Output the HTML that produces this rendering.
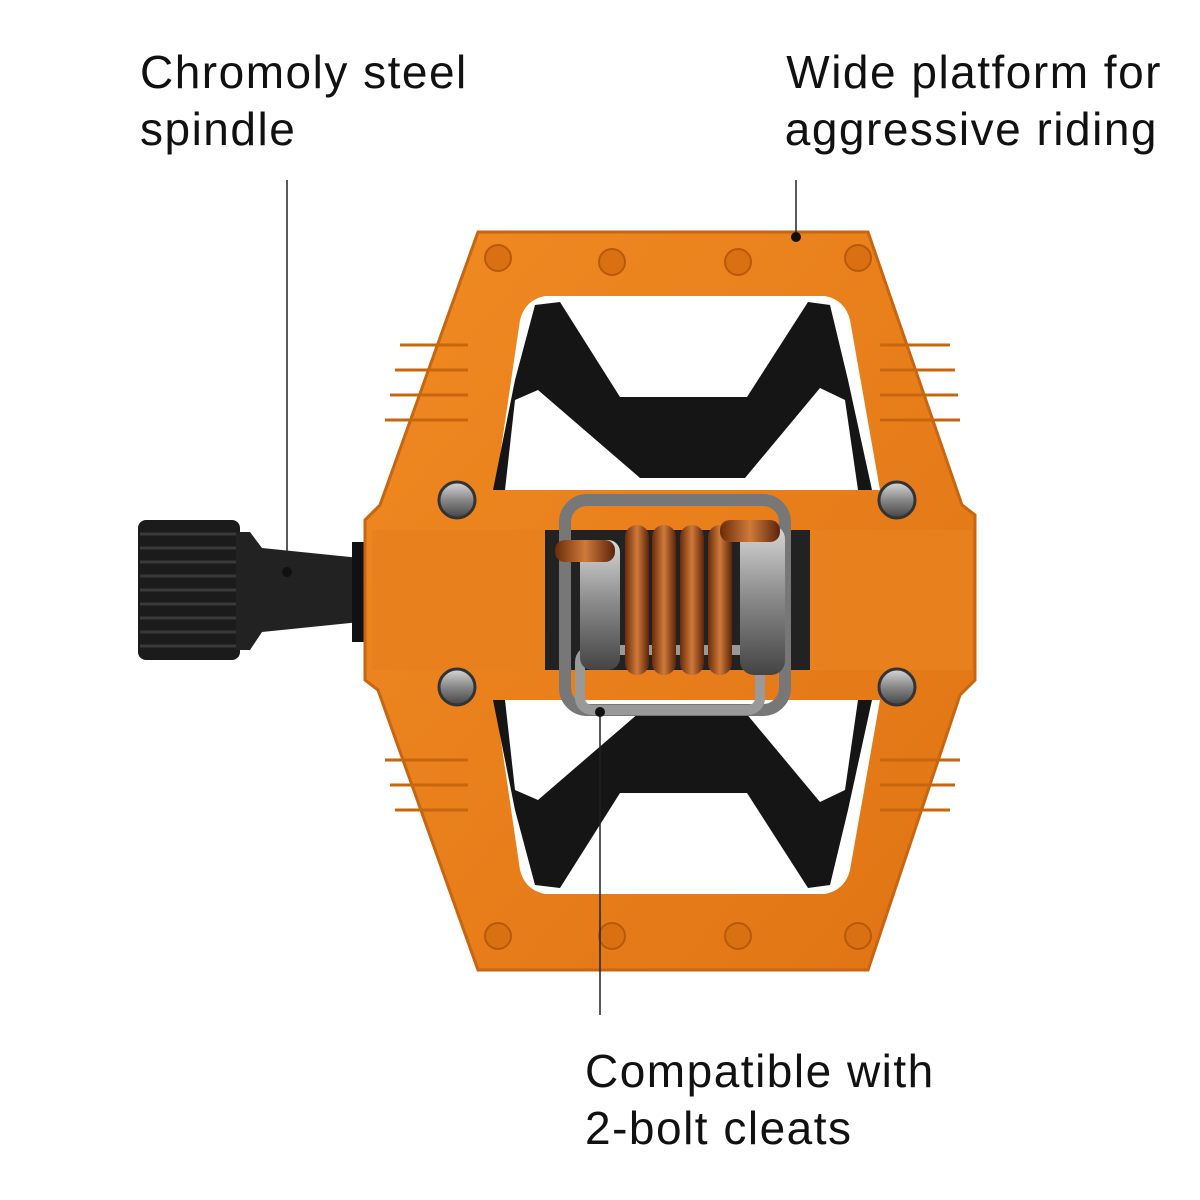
<!DOCTYPE html>
<html><head><meta charset="utf-8"><style>
html,body{margin:0;padding:0;background:#fff;}
svg{display:block}
text{font-family:"Liberation Sans",sans-serif;font-size:46px;letter-spacing:1.5px;fill:#111;}
</style></head><body>
<svg width="1200" height="1200" viewBox="0 0 1200 1200" xmlns="http://www.w3.org/2000/svg">
<defs>
<linearGradient id="orng" x1="0" y1="0" x2="1" y2="1">
<stop offset="0" stop-color="#f08a22"/><stop offset="1" stop-color="#e07414"/></linearGradient>
<linearGradient id="cu" x1="0" y1="0" x2="1" y2="0">
<stop offset="0" stop-color="#6a2c0a"/><stop offset="0.5" stop-color="#d07a3a"/><stop offset="1" stop-color="#5a240a"/></linearGradient>
<linearGradient id="sil" x1="0" y1="0" x2="0" y2="1">
<stop offset="0" stop-color="#d8d8d8"/><stop offset="0.5" stop-color="#888"/><stop offset="1" stop-color="#444"/></linearGradient>
</defs>

<text x="140" y="88">Chromoly steel</text>
<text x="140" y="145">spindle</text>
<text x="1162" y="88" text-anchor="end">Wide platform for</text>
<text x="1158" y="145" text-anchor="end">aggressive riding</text>
<text x="585" y="1087">Compatible with</text>
<text x="585" y="1144">2-bolt cleats</text>

<!-- spindle -->
<rect x="138" y="520" width="102" height="140" rx="8" fill="#1b1b1b"/>
<g stroke="#3a3a3a" stroke-width="3">
<line x1="140" y1="534" x2="240" y2="534"/><line x1="140" y1="548" x2="240" y2="548"/>
<line x1="140" y1="562" x2="240" y2="562"/><line x1="140" y1="576" x2="240" y2="576"/>
<line x1="140" y1="590" x2="240" y2="590"/><line x1="140" y1="604" x2="240" y2="604"/>
<line x1="140" y1="618" x2="240" y2="618"/><line x1="140" y1="632" x2="240" y2="632"/>
<line x1="140" y1="646" x2="240" y2="646"/>
</g>
<path d="M236 532 L250 532 L262 548 L360 558 L360 622 L262 632 L250 650 L236 650 Z" fill="#222"/>
<rect x="352" y="542" width="20" height="100" fill="#111"/>

<!-- platform -->
<path d="M478 232 L868 232 L962 505 L975 515 L975 680 L960 695 L868 970 L478 970 L378 690 L365 680 L365 520 L380 505 Z" fill="url(#orng)" stroke="#c86510" stroke-width="3"/>

<!-- upper window -->
<g id="win">
<path d="M545 296 L825 296 Q845 300 850 320 L880 490 L495 490 L520 320 Q525 300 545 296 Z" fill="#fff"/>
<path d="M535 305 L560 302 L620 397 L747 397 L808 302 L830 305 L848 380 L872 490 L858 490 L845 400 L820 388 L745 478 L640 478 L538 390 L515 400 L505 490 L493 490 L515 380 Z" fill="#151515"/>
</g>
<use href="#win" transform="matrix(1,0,0,-1,0,1190)"/>

<!-- studs -->
<g fill="#d97012" stroke="#b85a0a" stroke-width="2">
<circle cx="498" cy="258" r="13"/><circle cx="612" cy="262" r="13"/><circle cx="738" cy="262" r="13"/><circle cx="858" cy="258" r="13"/>
<circle cx="498" cy="936" r="13"/><circle cx="612" cy="936" r="13"/><circle cx="738" cy="936" r="13"/><circle cx="858" cy="936" r="13"/>
</g>
<!-- side ridges -->
<g stroke="#c8660e" stroke-width="3" fill="none">
<path d="M400 345 L468 345 M395 370 L468 370 M390 395 L468 395 M385 420 L468 420"/>
<path d="M880 345 L950 345 M880 370 L955 370 M880 395 L958 395 M880 420 L960 420"/>
<path d="M385 760 L468 760 M390 785 L468 785 M395 810 L468 810"/>
<path d="M880 760 L960 760 M880 785 L955 785 M880 810 L950 810"/>
</g>
<!-- cross-hatch pads -->
<rect x="372" y="530" width="172" height="140" fill="#e8801e"/>
<rect x="810" y="530" width="162" height="140" fill="#e8801e"/>
<!-- bolts -->
<g fill="url(#sil)" stroke="#333" stroke-width="3">
<circle cx="457" cy="500" r="18"/><circle cx="897" cy="500" r="18"/>
<circle cx="457" cy="687" r="18"/><circle cx="897" cy="687" r="18"/>
</g>
<!-- center mechanism -->
<rect x="545" y="530" width="265" height="140" fill="#222"/>
<rect x="565" y="500" width="220" height="210" rx="22" fill="none" stroke="#777" stroke-width="12"/>
<rect x="580" y="650" width="180" height="60" rx="12" fill="none" stroke="#999" stroke-width="10"/>
<g fill="url(#sil)">
<rect x="580" y="540" width="40" height="130" rx="12"/>
<rect x="740" y="525" width="45" height="150" rx="14"/>
</g>
<g fill="url(#cu)">
<rect x="625" y="525" width="24" height="150" rx="12"/>
<rect x="652" y="525" width="24" height="150" rx="12"/>
<rect x="680" y="525" width="24" height="150" rx="12"/>
<rect x="708" y="525" width="24" height="150" rx="12"/>
<rect x="555" y="540" width="60" height="22" rx="10"/>
<rect x="720" y="520" width="60" height="22" rx="10"/>
</g>

<!-- leader lines -->
<g stroke="#222" stroke-width="1.5">
<line x1="287" y1="180" x2="287" y2="572"/>
<line x1="796" y1="180" x2="796" y2="237"/>
<line x1="600" y1="712" x2="600" y2="1015"/>
</g>
<g fill="#111">
<circle cx="287" cy="572" r="5"/><circle cx="796" cy="237" r="5"/><circle cx="600" cy="712" r="5"/>
</g>
</svg>
</body></html>
